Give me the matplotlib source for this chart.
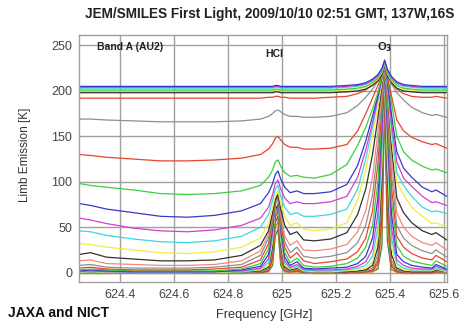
import matplotlib
matplotlib.use('Agg')
import matplotlib.pyplot as plt

plt.rcParams['font.family'] = ['Liberation Sans', 'DejaVu Sans']

# frequency grid [GHz] the spectra were read at
FREQ = [624.25, 624.29, 624.35, 624.45, 624.55, 624.65, 624.75, 624.85,
        624.92, 624.95, 624.965, 624.975, 624.985, 624.995, 625.01, 625.03, 625.055, 625.08,
        625.12, 625.18, 625.24, 625.28, 625.31, 625.335, 625.355, 625.37, 625.38, 625.39,
        625.405, 625.425, 625.45, 625.48, 625.52, 625.555, 625.57, 625.61]

# saturated lowest tangent heights (~200 K)
blue0 = [205]*11 + [206, 206, 205] + [205]*6 + [206, 207, 209, 213, 218, 225, 234, 224, 216, 210, 207, 206] + [205]*4
magenta0 = [204]*11 + [205, 205, 204] + [204]*6 + [205, 206, 208, 212, 217, 224, 233, 223, 215, 209, 206, 205] + [204]*4
cyan0 = [203]*11 + [204, 204, 203] + [203]*6 + [204, 205, 207, 211, 216, 223, 232, 222, 214, 208, 205, 204] + [203]*4
green0 = [201]*11 + [202, 202, 201] + [201]*6 + [202, 203, 205, 209, 214, 221, 231, 220, 212, 206, 203, 202] + [201]*4
yellow0 = [200]*11 + [201, 201, 200] + [200]*6 + [201, 202, 204, 208, 213, 220, 230, 219, 211, 205, 202, 201] + [200]*4
black0 = [198]*11 + [199, 199, 198] + [198]*6 + [199, 200, 202, 206, 211, 218, 229, 217, 209, 203, 200, 199] + [198]*4
red0 = [192]*9 + [193, 193, 194, 194, 193, 193, 192, 192, 192] + [192, 193, 194, 197, 201, 207, 214, 220, 230, 219, 210, 202, 197, 194, 193, 193, 194, 192]

# upper tangent heights, left part / HCl part / O3 part
grey1 = [169,169,168,167,166,166,166,167, 169,172,175,178,179,177,174,172,172,171, 171,172,176,184,193,202,211,220,230,219,208,198,190,182,176,173,174,171]
red1 = [130,129,127,125,123,123,124,126, 130,136,142,148,150,146,141,138,138,136, 136,137,141,156,175,192,206,218,230,216,195,168,156,149,144,141,142,137]
green1 = [98,96,94,91,87,86,87,90, 96,105,113,122,124,117,110,106,107,105, 104,108,119,140,160,180,198,216,231,214,188,150,133,124,117,113,114,110]
blue1 = [76,74,70,66,62,61,63,68, 76,88,98,108,112,103,94,88,90,87, 87,89,97,118,145,172,195,216,231,212,175,133,115,105,94,89,91,84]
magenta1 = [60,58,54,49,46,45,47,52, 60,72,86,98,102,92,82,76,78,76, 76,78,84,105,135,165,192,214,231,210,165,122,104,95,84,77,78,74]
cyan1 = [46,45,41,37,34,33,35,40, 50,64,80,92,96,84,72,64,66,62, 62,64,70,92,125,160,190,213,231,208,158,110,96,84,72,67,68,65]
yellow1 = [32,31,28,25,22,21,23,28, 38,54,72,85,90,76,62,52,55,48, 46,48,55,80,113,150,182,210,231,206,150,100,86,72,62,54,55,50]
black1 = [20,22,17,15,13,13,14,19, 30,46,66,80,86,70,52,42,45,36, 35,37,44,64,92,130,170,205,231,204,140,82,66,55,46,42,44,36]
salmon1 = [13,14,10,9,8,8,9,13, 24,42,65,80,86,66,40,30,35,25, 24,26,31,45,68,105,155,198,230,200,125,66,50,40,33,30,33,25]
grey2 = [8,9,6,5,5,5,6,9, 19,38,62,80,86,62,34,22,28,18, 16,18,22,33,52,85,138,192,229,195,110,52,38,30,24,21,25,17]
red2 = [5,6,4,3,3,3,4,6, 14,32,58,80,86,58,28,16,22,13, 10,12,15,23,38,68,120,185,228,188,95,40,28,21,16,14,19,12]
green2 = [3,4,3,2,2,2,2,4, 10,26,54,80,86,54,22,11,16,8, 6,7,10,16,28,52,100,175,227,178,80,30,18,13,10,8,13,7]
blue2 = [2,3,2,1,1,1,1,3, 7,20,50,80,86,50,17,8,12,5, 4,5,6,10,18,38,82,165,226,168,65,20,12,8,6,5,9,4]
magenta2 = [1,2,1,1,1,1,1,2, 5,15,45,78,84,45,13,6,9,4, 3,3,4,7,12,26,65,150,225,155,50,14,8,5,4,4,7,3]
cyan2 = [1,1,1,0,0,0,1,1, 4,11,40,75,82,40,10,5,7,3, 2,2,3,5,8,18,50,135,222,140,38,10,5,3,3,3,5,2]
yellow2 = [0,1,0,0,0,0,0,1, 3,8,35,72,80,35,8,4,6,2, 1,1,2,3,5,12,38,120,220,125,28,7,3,2,2,2,4,1]
black2 = [0,1,0,0,0,0,0,1, 2,6,30,68,76,30,6,3,5,2, 1,1,1,2,3,8,28,105,218,110,20,5,2,1,1,1,3,1]
grey3 = [0,0,0,0,0,0,0,0, 1,4,25,64,72,25,4,2,4,1, 0,0,1,1,2,5,20,90,215,95,14,3,1,1,1,1,2,0]
red3 = [0,0,0,0,0,0,0,0, 1,3,20,60,68,20,3,1,3,1, 0,0,0,1,1,3,14,75,212,80,10,2,1,0,0,0,2,0]
brown3 = [0,0,0,0,0,0,0,0, 0,2,16,55,62,16,2,1,2,0, 0,0,0,0,1,2,10,60,208,65,7,1,0,0,0,0,1,0]
orange3 = [-1,-1,-1,-1,-1,-1,-1,-1, 0,1,12,50,56,12,1,0,1,0, -1,-1,-1,0,0,1,6,45,200,50,4,0,-1,-1,-1,-1,0,-1]
dkgreen3 = [1,1,1,1,1,1,1,1, 1,1,8,40,48,8,1,1,1,1, 1,1,1,1,1,1,4,30,190,35,3,1,1,1,1,1,1,1]

XTICKS = [624.4, 624.6, 624.8, 625.0, 625.2, 625.4, 625.6]
XLABELS = ['624.4', '624.6', '624.8', '625', '625.2', '625.4', '625.6']
YTICKS = [0, 50, 100, 150, 200, 250]

RED, GREEN, BLUE, MAG = '#e8452e', '#3ccf3c', '#3838cc', '#d040d0'
CYAN, YEL, BLK, GRY = '#3cd6e0', '#eeee3a', '#333333', '#8e8e8e'
series = [
    (dkgreen3, '#2e8b2e'), (orange3, '#f08030'), (brown3, '#8b5a2b'), (red3, RED), (grey3, GRY),
    (black2, BLK), (yellow2, YEL), (cyan2, CYAN), (magenta2, MAG), (blue2, BLUE), (green2, GREEN),
    (red2, RED), (grey2, GRY), (salmon1, '#f08a7a'), (black1, BLK), (yellow1, YEL), (cyan1, CYAN),
    (magenta1, MAG), (blue1, BLUE), (green1, GREEN), (red1, RED), (grey1, GRY),
    (red0, RED), (black0, BLK), (yellow0, YEL), (green0, GREEN), (cyan0, CYAN), (magenta0, MAG), (blue0, BLUE),
]

fig = plt.figure(figsize=(4.67, 3.22), dpi=100)
ax = fig.add_axes([0.1692, 0.1242, 0.788, 0.767])
for vals, c in series:
    ax.plot(FREQ, vals, color=c, lw=0.9)
ax.set_xlim(624.248, 625.611)
ax.set_ylim(-10.3, 261.5)
ax.set_xticks(XTICKS)
ax.set_xticklabels(XLABELS)
ax.set_yticks(YTICKS)
ax.grid(color='#a0a0a0', lw=1.0)
ax.set_axisbelow(True)
ax.tick_params(length=0, labelsize=9, colors='#444444', pad=5)
for s in ax.spines.values():
    s.set_color('#a0a0a0'); s.set_linewidth(1.0)

fig.text(270/467, 1-14/322, 'JEM/SMILES First Light, 2009/10/10 02:51 GMT, 137W,16S',
         ha='center', va='center', fontsize=9.8, weight='bold', color='#222222')
fig.text(97/467, 1-47/322, 'Band A (AU2)', va='center', fontsize=7.5, weight='bold', color='#222222')
fig.text(274/467, 1-54/322, 'HCl', ha='center', va='center', fontsize=7.5, weight='bold', color='#222222')
fig.text(385/467, 1-47/322, r'O$_\mathbf{3}$', ha='center', va='center', fontsize=8, weight='bold', color='#222222')
fig.text(8/467, 1-313/322, 'JAXA and NICT', va='center', fontsize=10, weight='bold', color='#111111')
fig.text(264/467, 1-315/322, 'Frequency [GHz]', ha='center', va='center', fontsize=9.2, color='#333333')
fig.text(25/467, 1-155/322, 'Limb Emission [K]', ha='center', va='center', rotation=90, fontsize=8.5, color='#333333')

fig.savefig('out.png', dpi=100)
